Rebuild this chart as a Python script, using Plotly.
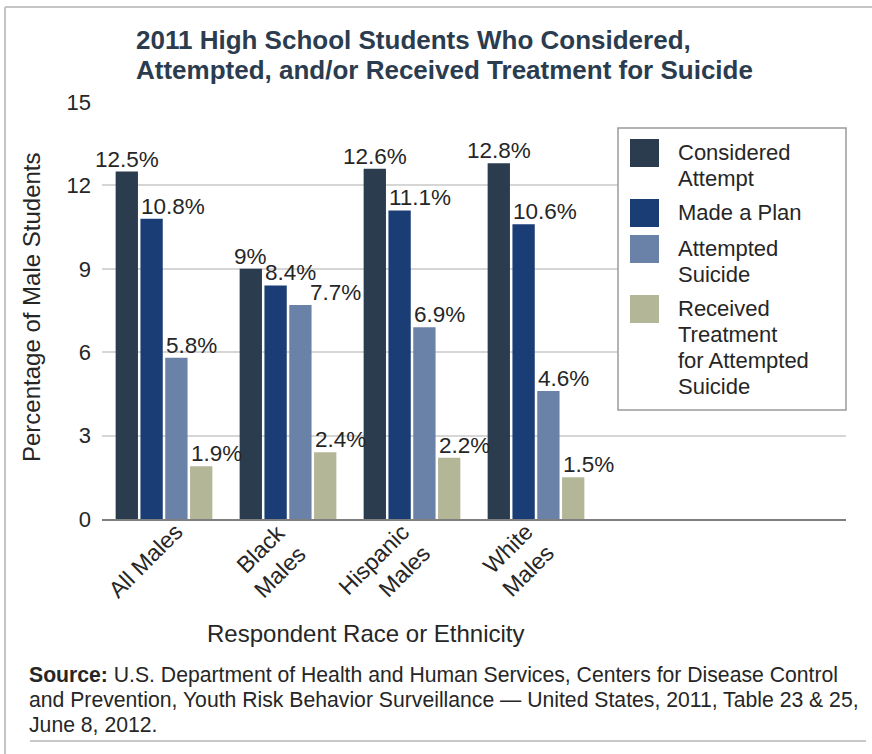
import plotly.graph_objects as go

# ---- data ----
groups = ["All Males", "Black<br>Males", "Hispanic<br>Males", "White<br>Males"]
series_names = ["Considered Attempt", "Made a Plan", "Attempted Suicide",
                "Received Treatment for Attempted Suicide"]
considered = [12.5, 9.0, 12.6, 12.8]
made_plan = [10.8, 8.4, 11.1, 10.6]
attempted = [5.8, 7.7, 6.9, 4.6]
treatment = [1.9, 2.4, 2.2, 1.5]
series_values = [considered, made_plan, attempted, treatment]
y_ticks = [0, 3, 6, 9, 12, 15]
legend_lines = [["Considered", "Attempt"], ["Made a Plan"],
                ["Attempted", "Suicide"],
                ["Received", "Treatment", "for Attempted", "Suicide"]]
title_lines = ["2011 High School Students Who Considered,",
               "Attempted, and/or Received Treatment for Suicide"]
source_lines = [
    "<b>Source:</b> U.S. Department of Health and Human Services, "
    "Centers for Disease Control",
    "and Prevention, Youth Risk Behavior Surveillance \u2014 United States, "
    "2011, Table 23 &amp; 25,",
    "June 8, 2012.",
]

# ---- style ----
colors = ["#2b3c4f", "#1a3d76", "#6a82a8", "#b4b797"]
FONT = "Liberation Sans, Arial, sans-serif"
TXT = "#262626"
W, H = 872, 754
L, R, T, B = 102, 846, 102, 519   # plot area in pixels
BAR_W = 0.18
BAR_STEP = 0.2
FIRST_OFF = -0.39
LEGEND_FONT = 22
LEGEND_LINE = 26          # line pitch of the legend entries
# (series, group) -> extra horizontal shift in px for crowded value labels
LABEL_NUDGE = {(2, 1): 20}


def px(x):
    return (x - L) / (R - L)


def py(y):
    return (B - y) / (B - T)


fig = go.Figure()
xs = list(range(len(groups)))
for k, (name, vals) in enumerate(zip(series_names, series_values)):
    fig.add_trace(go.Bar(
        x=xs, y=vals, name=name,
        offset=FIRST_OFF + k * BAR_STEP, width=BAR_W,
        marker=dict(color=colors[k], line=dict(width=0)),
        showlegend=False, hoverinfo="skip",
    ))

annotations = []
# value labels above each bar
for k, vals in enumerate(series_values):
    left = FIRST_OFF + k * BAR_STEP
    for i, v in enumerate(vals):
        if k == 0:
            ax, anchor = i + left + BAR_W / 2, "center"
        else:
            ax, anchor = i + left - 0.012, "left"
        annotations.append(dict(
            x=ax, y=v, xref="x", yref="y", text=f"{v:g}%",
            showarrow=False, xanchor=anchor, yanchor="bottom", yshift=-2,
            xshift=LABEL_NUDGE.get((k, i), 0),
            font=dict(family=FONT, size=22.5, color=TXT)))

# rotated category labels under the axis
for i, g in enumerate(groups):
    annotations.append(dict(
        x=i, y=0, xref="x", yref="y", text=g, textangle=-45,
        showarrow=False, xanchor="right", yanchor="top", align="right",
        xshift=26, yshift=3,
        font=dict(family=FONT, size=23, color=TXT)))

# title
for j, line in enumerate(title_lines):
    annotations.append(dict(
        x=px(134), y=py(40 + 30 * j), xref="paper", yref="paper",
        text=f"<b>{line}</b>", showarrow=False,
        xanchor="left", yanchor="middle",
        font=dict(family=FONT, size=26, color="#2b3c4f")))

# axis titles
annotations.append(dict(
    x=px(366), y=py(633), xref="paper", yref="paper",
    text="Respondent Race or Ethnicity", showarrow=False,
    xanchor="center", yanchor="middle",
    font=dict(family=FONT, size=24, color=TXT)))
annotations.append(dict(
    x=px(31), y=py(307), xref="paper", yref="paper",
    text="Percentage of Male Students", showarrow=False, textangle=-90,
    xanchor="center", yanchor="middle",
    font=dict(family=FONT, size=24, color=TXT)))

# source note
for j, line in enumerate(source_lines):
    annotations.append(dict(
        x=px(27), y=py(675 + 24.5 * j), xref="paper", yref="paper",
        text=line, showarrow=False, xanchor="left", yanchor="middle",
        font=dict(family=FONT, size=21.2, color=TXT)))

shapes = []
# outer frame lines
shapes.append(dict(type="line", xref="paper", yref="paper",
                   x0=px(5), x1=px(5), y0=py(7), y1=py(760),
                   line=dict(color="#c4c4c4", width=2)))
shapes.append(dict(type="line", xref="paper", yref="paper",
                   x0=px(5), x1=px(880), y0=py(7), y1=py(7),
                   line=dict(color="#c4c4c4", width=2)))
shapes.append(dict(type="line", xref="paper", yref="paper",
                   x0=px(30), x1=px(866), y0=py(741), y1=py(741),
                   line=dict(color="#c8c8c8", width=2)))

# legend box with colour swatches; each entry is one text block whose
# line pitch comes from the base size while glyphs use LEGEND_FONT
shapes.append(dict(type="rect", xref="paper", yref="paper",
                   x0=px(618), x1=px(846), y0=py(128), y1=py(410),
                   fillcolor="white", line=dict(color="#9a9a9a", width=1.5),
                   layer="above"))
legend_tops = [139, 199, 235, 295]
for k, (lines, top) in enumerate(zip(legend_lines, legend_tops)):
    shapes.append(dict(type="rect", xref="paper", yref="paper",
                       x0=px(630), x1=px(659), y0=py(top), y1=py(top + 28),
                       fillcolor=colors[k], line=dict(width=0), layer="above"))
    block = "<br>".join(
        f"<span style='font-size:{LEGEND_FONT}px'>{ln}</span>" for ln in lines)
    annotations.append(dict(
        x=px(676), y=py(top - 1), xref="paper", yref="paper",
        text=block, showarrow=False, xanchor="left", yanchor="top",
        align="left",
        font=dict(family=FONT, size=LEGEND_LINE / 1.3, color=TXT)))

fig.update_layout(
    width=W, height=H,
    margin=dict(l=L, r=W - R, t=T, b=H - B, pad=0),
    paper_bgcolor="white", plot_bgcolor="white",
    barmode="overlay",
    font=dict(family=FONT, size=20, color=TXT),
    xaxis=dict(range=[-0.5, 5.5], showticklabels=False, showgrid=False,
               zeroline=False, showline=True, linecolor="#7f7f7f",
               linewidth=2, ticks="", fixedrange=True),
    yaxis=dict(range=[0, 15], tickmode="array", tickvals=y_ticks,
               showgrid=True, gridcolor="#d6d6d6", gridwidth=1.5,
               zeroline=False, showline=False, ticks="",
               ticklabelstandoff=10,
               tickfont=dict(family=FONT, size=22, color=TXT),
               fixedrange=True),
    annotations=annotations,
    shapes=shapes,
)

fig.write_html("out.html")
